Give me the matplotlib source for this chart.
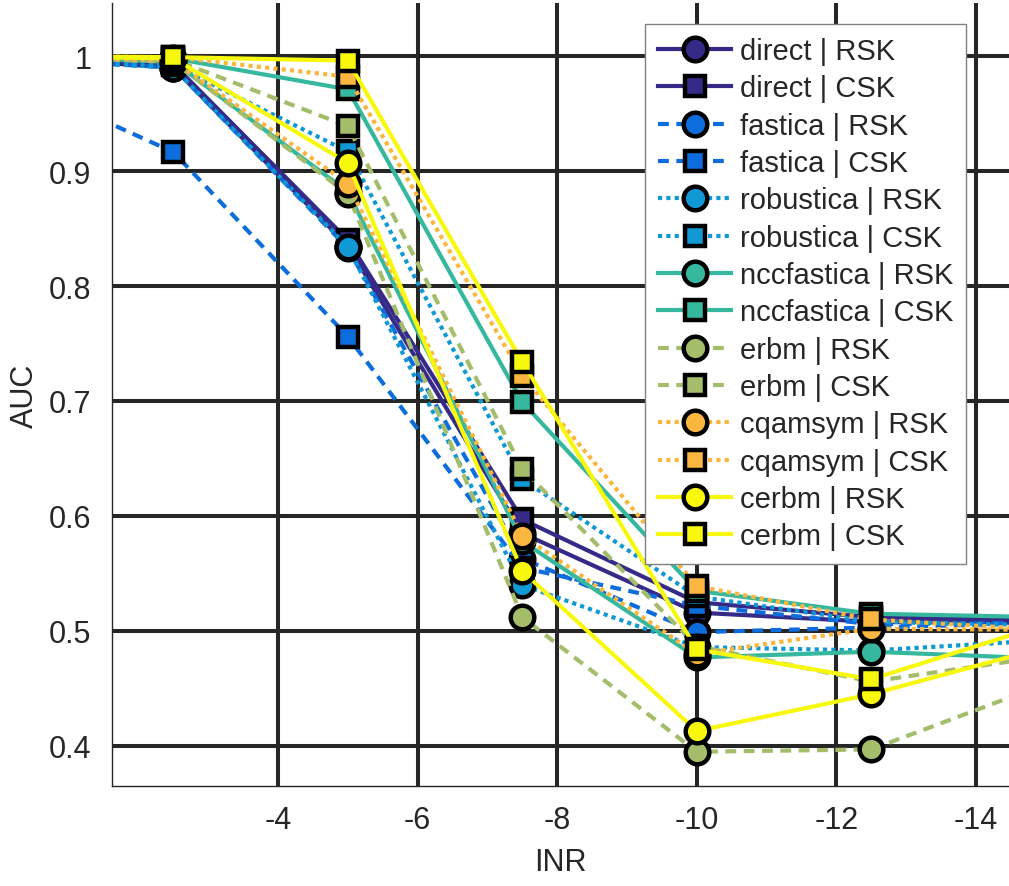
import numpy as np
import matplotlib
matplotlib.use("Agg")
import matplotlib.pyplot as plt

plt.rcParams['font.family'] = ['Liberation Sans', 'DejaVu Sans']
plt.rcParams['axes.unicode_minus'] = False

# INR points (first and last are outside the visible x range)
inr = [0, -2.5, -5, -7.5, -10, -12.5, -15]

direct_rsk = [1.000, 0.990, 0.835, 0.585, 0.516, 0.508, 0.507]
direct_csk = [1.000, 0.993, 0.840, 0.597, 0.525, 0.512, 0.509]
fastica_rsk = [0.998, 0.990, 0.833, 0.563, 0.499, 0.503, 0.507]
fastica_csk = [0.985, 0.9165, 0.756, 0.555, 0.522, 0.506, 0.507]
robustica_rsk = [0.998, 0.990, 0.834, 0.540, 0.486, 0.483, 0.492]
robustica_csk = [0.999, 0.992, 0.917, 0.632, 0.530, 0.508, 0.505]
ncc_rsk = [1.000, 0.995, 0.882, 0.578, 0.477, 0.482, 0.476]
ncc_csk = [1.000, 0.998, 0.971, 0.699, 0.535, 0.515, 0.512]
erbm_rsk = [1.000, 0.995, 0.880, 0.512, 0.395, 0.397, 0.454]
erbm_csk = [1.000, 0.997, 0.939, 0.641, 0.487, 0.456, 0.478]
cqam_rsk = [1.000, 0.996, 0.889, 0.583, 0.480, 0.502, 0.501]
cqam_csk = [1.000, 0.999, 0.982, 0.722, 0.539, 0.510, 0.501]
cerbm_rsk = [1.000, 0.998, 0.907, 0.552, 0.413, 0.445, 0.486]
cerbm_csk = [1.000, 0.999, 0.996, 0.734, 0.484, 0.458, 0.506]

methods = ['direct', 'fastica', 'robustica', 'nccfastica', 'erbm', 'cqamsym', 'cerbm']
colors = ['#352a87', '#0d6ddc', '#1099d4', '#36b89e', '#a4bd6a', '#fbb63f', '#f8f80f']
styles = ['-', (0, (2.6, 1.8)), (0, (1, 1)), '-', (0, (2.6, 1.8)), (0, (1, 1)), '-']
rsk = [direct_rsk, fastica_rsk, robustica_rsk, ncc_rsk, erbm_rsk, cqam_rsk, cerbm_rsk]
csk = [direct_csk, fastica_csk, robustica_csk, ncc_csk, erbm_csk, cqam_csk, cerbm_csk]

yticks = [0.4, 0.5, 0.6, 0.7, 0.8, 0.9, 1.0]
xticks = [-4, -6, -8, -10, -12, -14]

W, H = 1009, 887
fig = plt.figure(figsize=(W / 100, H / 100), dpi=100)
ax = fig.add_axes([112 / W, 1 - 787 / H, (W - 112) / W, (787 - 4) / H])

txt = '#262626'
for m, c, ls, r, s in zip(methods, colors, styles, rsk, csk):
    ax.plot(inr, r, linestyle=ls, color=c, lw=3, marker='o', ms=17,
            mfc=c, mec='black', mew=3.2, label=m + ' | RSK')
    ax.plot(inr, s, linestyle=ls, color=c, lw=3, marker='s', ms=14,
            mfc=c, mec='black', mew=3.2, label=m + ' | CSK')

ax.set_xlim(-1.622, -14.473)
ax.set_ylim(0.3652, 1.0461)
ax.set_xticks(xticks)
ax.set_xticklabels([str(v) for v in xticks])
ax.set_yticks(yticks)
ax.set_yticklabels(['%g' % v for v in yticks])
ax.tick_params(axis='x', length=0, labelsize=22, colors=txt, pad=14)
ax.tick_params(axis='y', length=0, labelsize=22, colors=txt, pad=15)
ax.grid(True, color='#262626', lw=2.9, zorder=0)
ax.set_axisbelow(True)
for sp in ['top', 'right']:
    ax.spines[sp].set_visible(False)
for sp in ['left', 'bottom']:
    ax.spines[sp].set_color('#262626')
    ax.spines[sp].set_linewidth(1.0)

ax.set_xlabel('INR', fontsize=22, color=txt, labelpad=8)
ax.set_ylabel('AUC', fontsize=22, color=txt, labelpad=6)

leg = ax.legend(loc='upper left', bbox_to_anchor=(645 / W, 1 - 25 / H),
                bbox_transform=fig.transFigure, borderaxespad=0,
                fontsize=21, handlelength=2.5, handletextpad=0.3,
                labelspacing=0.32, borderpad=0.45, fancybox=False,
                framealpha=1, edgecolor='#808080')
leg.get_frame().set_linewidth(1.0)
for t in leg.get_texts():
    t.set_color(txt)

fig.savefig('out.png', dpi=100)
